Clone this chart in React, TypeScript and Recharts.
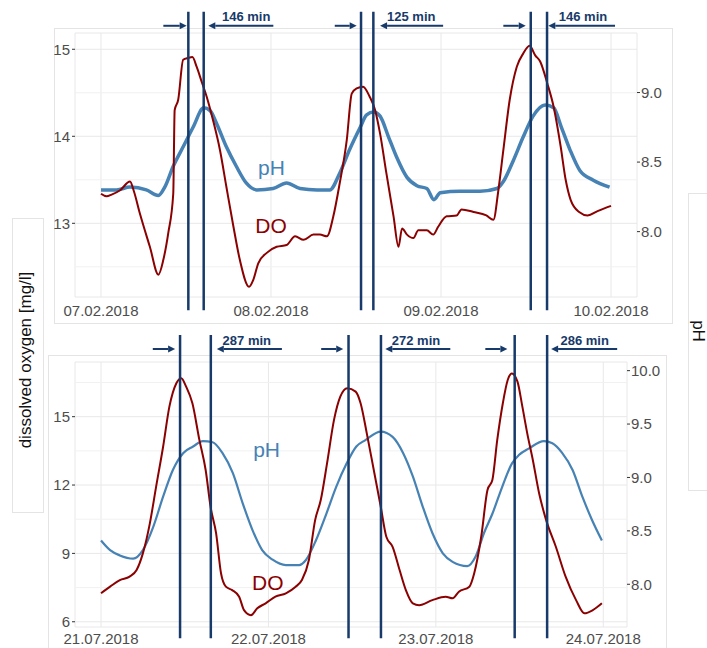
import React from "react";
import {
  LineChart,
  Line,
  XAxis,
  YAxis,
  CartesianGrid,
  ReferenceLine,
  ReferenceDot,
} from "recharts";

// hours since start of the 3-day window
const topDoHours = [0, 0.8, 1.5, 2.7, 4.1, 4.6, 5.5, 6.9, 8.1, 8.8, 9.5, 10.2, 10.4, 10.9, 11.6, 12.3, 12.9, 13.5, 14.2, 14.9, 15.8, 16.8, 17.7, 18.7, 19.6, 20.9, 21.5, 22.2, 23.4, 24.8, 26.2, 27.4, 28.6, 30.0, 30.9, 31.9, 32.8, 33.7, 34.7, 35.4, 36.1, 37.0, 37.9, 38.7, 39.4, 40.3, 41.3, 42.0, 42.5, 43.2, 44.1, 44.8, 46.0, 46.9, 47.6, 48.8, 50.2, 50.9, 52.6, 54.4, 55.4, 56.1, 56.8, 57.7, 58.7, 59.6, 60.5, 61.3, 62.0, 63.0, 63.9, 64.9, 65.6, 66.3, 67.5, 68.7, 70.1, 72.0];
const topDoValues = [13.34, 13.31, 13.33, 13.38, 13.48, 13.38, 13.11, 12.73, 12.41, 12.58, 12.89, 13.34, 14.3, 14.42, 14.88, 14.9, 14.91, 14.8, 14.63, 14.46, 14.19, 13.84, 13.42, 12.96, 12.58, 12.27, 12.35, 12.54, 12.66, 12.73, 12.75, 12.85, 12.81, 12.87, 12.87, 12.85, 13.08, 13.46, 13.96, 14.49, 14.55, 14.57, 14.46, 14.3, 14.03, 13.57, 13.08, 12.73, 12.94, 12.87, 12.83, 12.92, 12.92, 12.87, 12.96, 13.08, 13.09, 13.16, 13.13, 13.09, 13.04, 13.38, 13.84, 14.42, 14.8, 14.95, 15.04, 14.93, 14.86, 14.61, 14.34, 13.88, 13.5, 13.27, 13.13, 13.09, 13.14, 13.2];
const topPhHours = [0, 2.2, 4.1, 6.4, 8.1, 9.0, 10.2, 11.6, 13.0, 14.5, 15.4, 16.3, 17.7, 19.1, 20.5, 22.0, 24.3, 26.2, 28.1, 30.5, 32.3, 33.7, 35.1, 36.6, 37.5, 38.5, 39.4, 40.6, 41.7, 43.2, 44.6, 46.0, 47.0, 47.9, 50.7, 53.5, 55.9, 56.8, 58.2, 59.6, 61.0, 62.7, 63.9, 65.0, 66.2, 67.6, 69.5, 71.8];
const topPhValues = [8.3, 8.3, 8.32, 8.3, 8.26, 8.32, 8.47, 8.61, 8.75, 8.89, 8.87, 8.78, 8.61, 8.47, 8.35, 8.3, 8.31, 8.35, 8.31, 8.3, 8.3, 8.42, 8.59, 8.75, 8.84, 8.86, 8.83, 8.68, 8.54, 8.39, 8.33, 8.31, 8.23, 8.28, 8.29, 8.29, 8.31, 8.36, 8.51, 8.68, 8.83, 8.91, 8.89, 8.75, 8.59, 8.44, 8.37, 8.32];

const botDoHours = [0, 1.3, 2.7, 4.1, 5.1, 6.0, 7.0, 7.9, 8.9, 9.8, 10.8, 11.5, 12.2, 13.1, 14.1, 15.0, 15.7, 16.5, 17.2, 17.9, 18.8, 19.8, 20.5, 21.5, 22.4, 23.6, 25.0, 26.5, 27.9, 28.8, 29.8, 30.7, 31.5, 32.4, 33.4, 34.3, 35.3, 36.5, 37.2, 38.1, 39.1, 40.1, 40.9, 41.8, 42.8, 43.7, 44.7, 45.6, 47.5, 49.4, 50.4, 51.3, 52.8, 53.5, 54.5, 55.4, 56.1, 56.8, 57.6, 58.3, 58.9, 59.7, 60.4, 61.1, 61.9, 62.8, 63.8, 65.2, 66.6, 68.1, 69.3, 70.5, 71.8];
const botDoValues = [7.25, 7.54, 7.83, 7.98, 8.27, 9.0, 10.32, 11.93, 13.68, 15.44, 16.47, 16.69, 16.32, 15.59, 13.98, 12.66, 11.05, 9.88, 8.13, 7.54, 7.39, 7.1, 6.51, 6.29, 6.59, 6.81, 7.1, 7.25, 7.54, 7.83, 8.71, 10.47, 11.34, 12.95, 14.86, 15.88, 16.25, 16.1, 15.6, 14.27, 12.66, 11.05, 9.73, 9.29, 8.27, 7.39, 6.81, 6.73, 6.95, 7.1, 7.03, 7.32, 7.54, 8.13, 9.73, 11.78, 12.22, 13.98, 15.59, 16.61, 16.9, 16.54, 15.44, 14.27, 13.1, 11.64, 10.47, 9.29, 7.98, 6.95, 6.37, 6.51, 6.81];
const botPhHours = [0, 1.3, 2.7, 4.6, 6.0, 7.5, 8.9, 10.3, 11.8, 13.2, 14.6, 16.0, 17.4, 18.9, 20.3, 21.7, 23.1, 24.6, 26.5, 28.4, 29.4, 30.8, 32.3, 33.7, 35.2, 36.6, 37.9, 40.1, 41.8, 43.3, 44.7, 46.1, 47.5, 49.0, 50.4, 52.5, 53.7, 54.9, 56.1, 57.5, 58.9, 59.9, 61.3, 63.5, 64.7, 66.1, 67.6, 69.0, 70.4, 71.8];
const botPhValues = [8.41, 8.32, 8.27, 8.24, 8.32, 8.54, 8.82, 9.07, 9.23, 9.29, 9.34, 9.33, 9.23, 9.04, 8.76, 8.51, 8.32, 8.23, 8.18, 8.18, 8.23, 8.41, 8.66, 8.91, 9.13, 9.29, 9.35, 9.43, 9.38, 9.23, 9.01, 8.73, 8.48, 8.29, 8.21, 8.17, 8.26, 8.48, 8.66, 8.91, 9.13, 9.21, 9.27, 9.34, 9.32, 9.23, 9.07, 8.82, 8.6, 8.41];

const topDates = ["07.02.2018", "08.02.2018", "09.02.2018", "10.02.2018"];
const botDates = ["21.07.2018", "22.07.2018", "23.07.2018", "24.07.2018"];
const dayTicks = [0, 24, 48, 72];

// peak markers (hours) and lag annotations
const topPeakLines = [12.33, 14.5, 36.71, 38.45, 60.67, 62.97];
const topArrowsIn = [[8.8, 12.1], [33.0, 36.1], [56.8, 59.96]];
const topArrowsOut = [[24.33, 15.15], [48.3, 39.4], [72.57, 63.15]];
const topLagLabels = ["146 min", "125 min", "146 min"];
const topLagPos = [20.5, 43.8, 68.05];

const botPeakLines = [11.33, 15.74, 35.48, 40.13, 59.3, 63.95];
const botArrowsIn = [[7.42, 10.62], [31.56, 34.72], [55.09, 58.25]];
const botArrowsOut = [[25.93, 16.6], [50.07, 40.75], [73.99, 64.52]];
const botLagLabels = ["287 min", "272 min", "286 min"];
const botLagPos = [20.9, 45.15, 69.34];

const NAVY = "#173a6a";
const RED = "#8b0000";
const BLUE = "#4682b4";
const FONT = "'Liberation Sans', Arial, sans-serif";
const AXIS_TEXT = "#4d4d4d";

const toPoints = (hs: number[], vs: number[]) => hs.map((h, i) => ({ h, v: vs[i] }));

const Arrow = (props: any) => {
  const { x1, y1, x2, y2 } = props;
  const dir = x2 > x1 ? 1 : -1;
  const len = 7;
  const hw = 3.5;
  return (
    <g>
      <line x1={x1} y1={y1} x2={x2 - dir * len} y2={y2} stroke={NAVY} strokeWidth={2} />
      <polygon
        points={`${x2},${y2} ${x2 - dir * len},${y2 - hw} ${x2 - dir * len},${y2 + hw}`}
        fill={NAVY}
      />
    </g>
  );
};

const textShape = (txt: string, color: string, size: number, bold = false) => (p: any) => (
  <text
    x={p.cx}
    y={p.cy}
    textAnchor="middle"
    fill={color}
    fontSize={size}
    fontWeight={bold ? "bold" : "normal"}
    fontFamily={FONT}
  >
    {txt}
  </text>
);

type PanelProps = {
  width: number;
  height: number;
  margin: { top: number; right: number; bottom: number; left: number };
  xDomain: [number, number];
  doDomain: [number, number];
  phDomain: [number, number];
  doTicks: number[];
  doMinor: number[];
  phTicks: number[];
  dates: string[];
  doData: { h: number; v: number }[];
  phData: { h: number; v: number }[];
  phWidth: number;
  peaks: number[];
  lineSpan: [number, number];
  arrowsIn: number[][];
  arrowsOut: number[][];
  arrowY: number;
  lagLabels: string[];
  lagPos: number[];
  lagY: number;
  phLabel: [number, number];
  doLabel: [number, number];
  xAxisHeight: number;
  xTickOffset: number;
};

const Panel = (p: PanelProps) => (
  <LineChart width={p.width} height={p.height} margin={p.margin}>
    <CartesianGrid yAxisId="do" stroke="#e8e8e8" strokeWidth={1} />
    {p.doMinor.map((y) => (
      <ReferenceLine key={"m" + y} yAxisId="do" y={y} stroke="#f1f1f1" strokeWidth={1} />
    ))}
    <XAxis
      type="number"
      dataKey="h"
      domain={p.xDomain}
      allowDataOverflow
      ticks={dayTicks}
      tickFormatter={(v: number) => p.dates[dayTicks.indexOf(v)] ?? ""}
      axisLine={false}
      tickLine={false}
      tickSize={0}
      tickMargin={p.xTickOffset}
      height={p.xAxisHeight}
      tick={{ fill: AXIS_TEXT, fontSize: 15, fontFamily: FONT }}
      interval={0}
    />
    <YAxis
      yAxisId="do"
      orientation="left"
      domain={p.doDomain}
      allowDataOverflow
      ticks={p.doTicks}
      width={40}
      axisLine={false}
      tickLine={{ stroke: "#333" }}
      tickSize={3}
      tickMargin={2}
      tick={{ fill: AXIS_TEXT, fontSize: 15, fontFamily: FONT }}
      interval={0}
    />
    <YAxis
      yAxisId="ph"
      orientation="right"
      domain={p.phDomain}
      allowDataOverflow
      ticks={p.phTicks}
      tickFormatter={(v: number) => v.toFixed(1)}
      width={45}
      axisLine={false}
      tickLine={{ stroke: "#333" }}
      tickSize={3}
      tickMargin={1}
      tick={{ fill: AXIS_TEXT, fontSize: 15, fontFamily: FONT }}
      interval={0}
    />
    <Line
      yAxisId="ph"
      data={p.phData}
      dataKey="v"
      type="monotone"
      stroke={BLUE}
      strokeWidth={p.phWidth}
      dot={false}
      isAnimationActive={false}
    />
    <Line
      yAxisId="do"
      data={p.doData}
      dataKey="v"
      type="monotone"
      stroke={RED}
      strokeWidth={2}
      dot={false}
      isAnimationActive={false}
    />
    {p.peaks.map((x) => (
      <ReferenceLine
        key={"p" + x}
        yAxisId="do"
        ifOverflow="visible"
        segment={[
          { x, y: p.lineSpan[0] },
          { x, y: p.lineSpan[1] },
        ]}
        stroke={NAVY}
        strokeWidth={2.5}
      />
    ))}
    {[...p.arrowsIn, ...p.arrowsOut].map(([a, b]) => (
      <ReferenceLine
        key={"a" + a}
        yAxisId="do"
        ifOverflow="visible"
        segment={[
          { x: a, y: p.arrowY },
          { x: b, y: p.arrowY },
        ]}
        shape={Arrow}
      />
    ))}
    {p.lagLabels.map((t, i) => (
      <ReferenceDot
        key={"l" + i}
        yAxisId="do"
        x={p.lagPos[i]}
        y={p.lagY}
        ifOverflow="visible"
        shape={textShape(t, NAVY, 13, true)}
      />
    ))}
    <ReferenceDot
      yAxisId="do"
      x={p.phLabel[0]}
      y={p.phLabel[1]}
      ifOverflow="visible"
      shape={textShape("pH", BLUE, 21)}
    />
    <ReferenceDot
      yAxisId="do"
      x={p.doLabel[0]}
      y={p.doLabel[1]}
      ifOverflow="visible"
      shape={textShape("DO", RED, 21)}
    />
  </LineChart>
);

const box = (left: number, top: number, width: number, height: number): React.CSSProperties => ({
  position: "absolute",
  left,
  top,
  width,
  height,
  border: "1px solid #e4e4e4",
  boxSizing: "border-box",
});

export default function App() {
  return (
    <div
      style={{
        position: "absolute",
        left: 0,
        top: 0,
        width: 707,
        height: 648,
        background: "#fff",
        overflow: "hidden",
        fontFamily: FONT,
      }}
    >
      <div style={box(54, 28, 619, 296)} />
      <div style={box(48, 355, 619, 310)} />
      <div style={box(12, 218, 32, 295)} />
      <div style={box(688, 193, 40, 298)} />
      <div
        style={{
          position: "absolute",
          left: 26,
          top: 360,
          transform: "translate(-50%, -50%) rotate(-90deg)",
          whiteSpace: "nowrap",
          fontSize: 17,
          color: "#111",
        }}
      >
        dissolved oxygen [mg/l]
      </div>
      <div
        style={{
          position: "absolute",
          left: 698,
          top: 331,
          transform: "translate(-50%, -50%) rotate(90deg)",
          whiteSpace: "nowrap",
          fontSize: 17,
          lineHeight: "17px",
          color: "#111",
        }}
      >
        pH
      </div>

      <div style={{ position: "absolute", left: 0, top: 0 }}>
        <Panel
          width={707}
          height={330}
          margin={{ top: 33, right: 25, bottom: 8, left: 35 }}
          xDomain={[-3.67, 75.67]}
          doDomain={[12.153, 15.187]}
          phDomain={[7.53, 9.428]}
          doTicks={[13, 14, 15]}
          doMinor={[12.5, 13.5, 14.5]}
          phTicks={[8.0, 8.5, 9.0]}
          dates={topDates}
          doData={toPoints(topDoHours, topDoValues)}
          phData={toPoints(topPhHours, topPhValues)}
          phWidth={3.5}
          peaks={topPeakLines}
          lineSpan={[15.43, 12.0]}
          arrowsIn={topArrowsIn}
          arrowsOut={topArrowsOut}
          arrowY={15.27}
          lagLabels={topLagLabels}
          lagPos={topLagPos}
          lagY={15.33}
          phLabel={[24.07, 13.555]}
          doLabel={[24.0, 12.89]}
          xAxisHeight={25}
          xTickOffset={8}
        />
      </div>
      <div style={{ position: "absolute", left: 0, top: 330 }}>
        <Panel
          width={707}
          height={318}
          margin={{ top: 32, right: 35, bottom: 0, left: 35 }}
          xDomain={[-3.73, 75.4]}
          doDomain={[5.77, 17.4]}
          phDomain={[7.6, 10.081]}
          doTicks={[6, 9, 12, 15]}
          doMinor={[7.5, 10.5, 13.5, 16.5]}
          phTicks={[8.0, 8.5, 9.0, 9.5, 10.0]}
          dates={botDates}
          doData={toPoints(botDoHours, botDoValues)}
          phData={toPoints(botPhHours, botPhValues)}
          phWidth={2.2}
          peaks={botPeakLines}
          lineSpan={[18.59, 5.28]}
          arrowsIn={botArrowsIn}
          arrowsOut={botArrowsOut}
          arrowY={17.97}
          lagLabels={botLagLabels}
          lagPos={botLagPos}
          lagY={18.15}
          phLabel={[23.74, 13.23]}
          doLabel={[23.9, 7.39]}
          xAxisHeight={21}
          xTickOffset={6}
        />
      </div>
    </div>
  );
}
